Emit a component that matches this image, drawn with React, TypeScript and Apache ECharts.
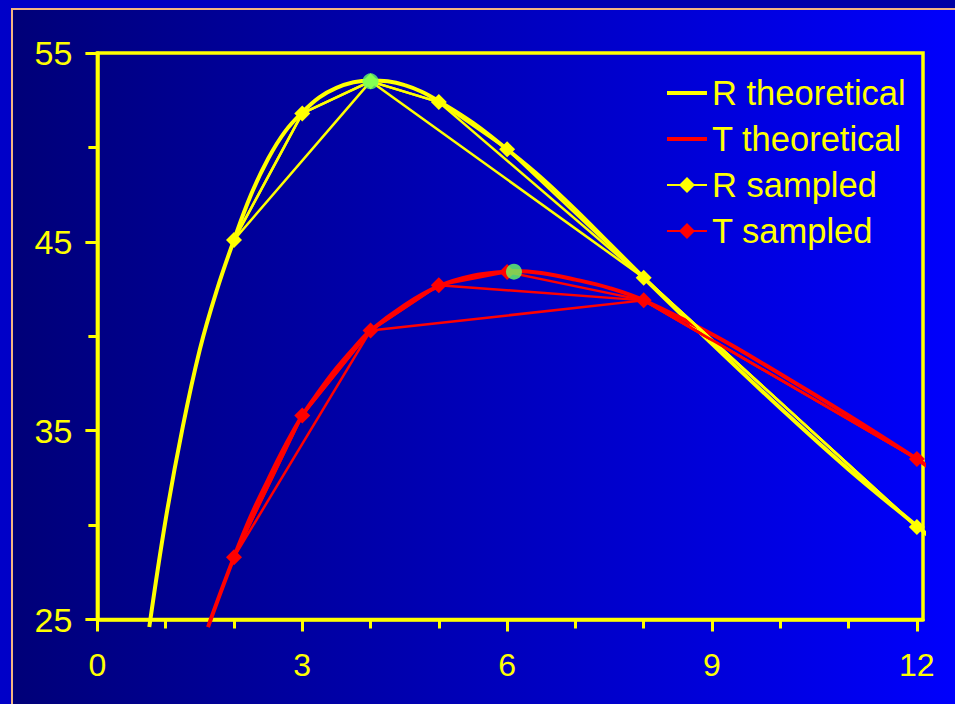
import React, { useEffect, useRef } from "react";
import * as echarts from "echarts";

// Theoretical curves
const rTheoX = [0.76, 1.0, 1.25, 1.5, 1.75, 2, 2.25, 2.5, 2.75, 3, 3.25, 3.5, 3.75, 4, 4.25, 4.5, 4.75, 5, 5.5, 6, 6.5, 7, 7.5, 8, 9, 10, 11, 12, 12.2];
const rTheoY = [24.6, 30.3, 35.2, 39.3, 42.45, 45.1, 47.5, 49.4, 50.85, 51.85, 52.65, 53.15, 53.45, 53.55, 53.5, 53.3, 52.95, 52.45, 51.3, 49.9, 48.4, 46.7, 44.9, 43.1, 39.6, 36.2, 32.95, 29.95, 29.35];
const tTheoX = [1.62, 1.75, 2, 2.25, 2.5, 2.75, 3, 3.25, 3.5, 3.75, 4, 4.5, 5, 5.5, 6, 6.1, 6.5, 7, 7.5, 8, 9, 10, 11, 12, 12.2];
const tTheoY = [24.6, 25.9, 28.3, 30.5, 32.4, 34.2, 35.8, 37.1, 38.3, 39.35, 40.3, 41.65, 42.65, 43.2, 43.43, 43.45, 43.35, 43.0, 42.55, 41.9, 40.1, 38.0, 35.8, 33.5, 33.0];

// Sampled (fine)
const sampleX = [2, 3, 4, 5, 6, 8, 12];
const rSampled = [45.1, 51.8, 53.5, 52.4, 49.9, 43.1, 29.9];
const tSampled = [28.3, 35.8, 40.3, 42.7, 43.4, 41.9, 33.5];

// Sampled (coarse)
const coarseX = [2, 4, 8, 12];
const rCoarse = [45.1, 53.5, 43.1, 29.9];
const tCoarse = [28.3, 40.3, 41.9, 33.5];

// Sampled (medium)
const mediumX = [2, 3, 4, 5, 8, 12];
const rMedium = [45.1, 51.8, 53.5, 52.4, 43.1, 29.9];
const tMedium = [28.3, 35.8, 40.3, 42.7, 41.9, 33.5];

// Peaks
const peakX = [4.0, 6.1];
const peakY = [53.5, 43.42];

// Axis ticks / labels
const xLabels = [0, 3, 6, 9, 12];
const xMinor = [1, 2, 4, 5, 7, 8, 10, 11];
const yLabels = [25, 35, 45, 55];
const yMinor = [30, 40, 50];

const YELLOW = "#ffff00";
const RED = "#ff0000";
const FONT = "Liberation Sans";
const LINE_ICON = "path://M0,0H40V4H0Z";

const zip = (xs: number[], ys: number[]) => xs.map((x, i) => [x, ys[i]]);

export default function App() {
  const ref = useRef<HTMLDivElement>(null);
  useEffect(() => {
    document.body.style.margin = "0";
    const chart = echarts.init(ref.current!, null, { renderer: "svg" });
    const xMax = 12.09;
    const option: any = {
      animation: false,
      backgroundColor: "transparent",
      textStyle: { fontFamily: FONT },
      grid: {
        left: 97.4,
        top: 53,
        right: 32,
        bottom: 84.5,
        show: true,
        borderColor: YELLOW,
        borderWidth: 3.5,
        backgroundColor: "transparent",
      },
      legend: {
        orient: "vertical",
        left: 661,
        top: 70.5,
        itemWidth: 40,
        itemHeight: 20,
        itemGap: 11,
        data: [
          { name: "R theoretical", icon: LINE_ICON },
          { name: "T theoretical", icon: LINE_ICON },
          { name: "R sampled" },
          { name: "T sampled" },
        ],
        textStyle: { color: YELLOW, fontSize: 34.5, fontFamily: FONT },
        selectedMode: false,
      },
      xAxis: [
        {
          type: "value",
          min: 0,
          max: xMax,
          position: "bottom",
          axisLine: { show: true, lineStyle: { color: YELLOW, width: 3.5 } },
          axisTick: { show: true, customValues: xLabels, length: 12, lineStyle: { color: YELLOW, width: 3 } },
          axisLabel: { customValues: xLabels, color: YELLOW, fontSize: 32, fontFamily: FONT, margin: 29 },
          splitLine: { show: false },
        },
        {
          type: "value",
          min: 0,
          max: xMax,
          position: "bottom",
          axisLine: { show: false },
          axisTick: { show: true, customValues: xMinor, length: 9, lineStyle: { color: YELLOW, width: 3 } },
          axisLabel: { show: false },
          splitLine: { show: false },
        },
      ],
      yAxis: [
        {
          type: "value",
          min: 25,
          max: 55,
          position: "left",
          axisLine: { show: true, lineStyle: { color: YELLOW, width: 3.5 } },
          axisTick: { show: true, customValues: yLabels, length: 12, lineStyle: { color: YELLOW, width: 3 } },
          axisLabel: { customValues: yLabels, color: YELLOW, fontSize: 34, fontFamily: FONT, margin: 25 },
          splitLine: { show: false },
        },
        {
          type: "value",
          min: 25,
          max: 55,
          position: "left",
          axisLine: { show: false },
          axisTick: { show: true, customValues: yMinor, length: 9, lineStyle: { color: YELLOW, width: 3 } },
          axisLabel: { show: false },
          splitLine: { show: false },
        },
      ],
      series: [
        {
          name: "R theoretical",
          type: "line",
          data: zip(rTheoX, rTheoY),
          symbol: "none",
          smooth: 0.4,
          clip: false,
          lineStyle: { color: YELLOW, width: 4 },
          itemStyle: { color: YELLOW },
          z: 2,
        },
        {
          name: "T theoretical",
          type: "line",
          data: zip(tTheoX, tTheoY),
          symbol: "none",
          smooth: 0.4,
          clip: false,
          lineStyle: { color: RED, width: 4 },
          itemStyle: { color: RED },
          z: 2,
        },
        {
          name: "R sampled",
          type: "line",
          data: zip(sampleX, rSampled),
          symbol: "diamond",
          symbolSize: 16,
          clip: false,
          lineStyle: { color: YELLOW, width: 2.5 },
          itemStyle: { color: YELLOW },
          z: 3,
        },
        {
          name: "T sampled",
          type: "line",
          data: zip(sampleX, tSampled),
          symbol: "diamond",
          symbolSize: 16,
          clip: false,
          lineStyle: { color: RED, width: 2.5 },
          itemStyle: { color: RED },
          z: 3,
        },
        {
          name: "R coarse",
          type: "line",
          data: zip(coarseX, rCoarse),
          symbol: "none",
          clip: false,
          lineStyle: { color: YELLOW, width: 2.5 },
          z: 3,
        },
        {
          name: "T coarse",
          type: "line",
          data: zip(coarseX, tCoarse),
          symbol: "none",
          clip: false,
          lineStyle: { color: RED, width: 2.5 },
          z: 3,
        },
        {
          name: "R medium",
          type: "line",
          data: zip(mediumX, rMedium),
          symbol: "none",
          clip: false,
          lineStyle: { color: YELLOW, width: 2.5 },
          z: 3,
        },
        {
          name: "T medium",
          type: "line",
          data: zip(mediumX, tMedium),
          symbol: "none",
          clip: false,
          lineStyle: { color: RED, width: 2.5 },
          z: 3,
        },
        {
          name: "peaks",
          type: "scatter",
          data: zip(peakX, peakY),
          symbol: "circle",
          symbolSize: 16,
          itemStyle: { color: "#66ff66" },
          z: 5,
        },
      ],
    };
    chart.setOption(option);
    return () => chart.dispose();
  }, []);

  return (
    <div
      style={{
        position: "relative",
        width: 955,
        height: 704,
        overflow: "hidden",
        background: "linear-gradient(to right, #0000c8, #0000a4)",
      }}
    >
      <div
        style={{
          position: "absolute",
          left: 10.5,
          top: 7.5,
          width: 960,
          height: 710,
          borderLeft: "2px solid #f2b482",
          borderTop: "2px solid #f2b482",
          background: "linear-gradient(to right, #000078, #0000ff)",
        }}
      />
      <div ref={ref} style={{ position: "absolute", left: 0, top: 0, width: 955, height: 704 }} />
    </div>
  );
}
